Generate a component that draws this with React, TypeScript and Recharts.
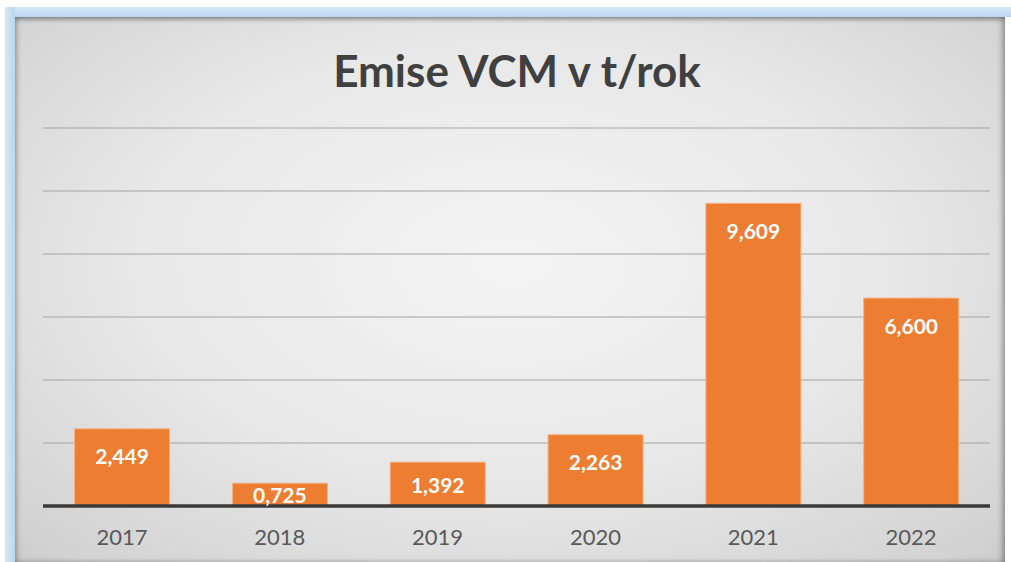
import React from "react";
import { BarChart, Bar, XAxis, YAxis, CartesianGrid, LabelList } from "recharts";

const years = ["2017", "2018", "2019", "2020", "2021", "2022"];
const emissions = [2.449, 0.725, 1.392, 2.263, 9.609, 6.6];
const valueLabels = ["2,449", "0,725", "1,392", "2,263", "9,609", "6,600"];
const yTicks = [0, 2, 4, 6, 8, 10, 12];
const title = "Emise VCM v t/rok";

const data = years.map((y, i) => ({ year: y, value: emissions[i], label: valueLabels[i] }));

const FONT = "Lato, 'Open Sans', sans-serif";

const renderLabel = (props: any) => {
  const { x, y, width, height, index } = props;
  const cx = x + width / 2;
  const cy = height > 50 ? y + 27 : y + height / 2;
  return (
    <text
      x={cx}
      y={cy}
      textAnchor="middle"
      dominantBaseline="central"
      fill="#ffffff"
      fontFamily={FONT}
      fontWeight={700}
      fontSize={21}
    >
      {valueLabels[index]}
    </text>
  );
};

export default function App() {
  return (
    <div style={{ position: "absolute", left: 0, top: 0, width: 1011, height: 562, background: "#ffffff", overflow: "hidden" }}>
      {/* spreadsheet frame strips */}
      <div style={{ position: "absolute", left: 5, top: 7, width: 1006, height: 10, background: "linear-gradient(#d6e8f8, #b9d5ef)" }} />
      <div style={{ position: "absolute", left: 5, top: 7, width: 10, height: 555, background: "linear-gradient(90deg, #d6e8f8, #b9d5ef)" }} />
      {/* chart area */}
      <div
        style={{
          position: "absolute",
          left: 15,
          top: 17,
          width: 990,
          height: 545,
          background: "radial-gradient(ellipse 75% 80% at 50% 45%, #f4f4f4 0%, #e8e8e8 50%, #d2d2d2 90%, #c6c6c6 100%)",
          boxShadow: "inset 0 3px 4px rgba(0,0,0,0.25), inset 3px 0 4px rgba(0,0,0,0.15), inset -4px 0 5px rgba(0,0,0,0.2)",
        }}
      />
      <div
        style={{
          position: "absolute",
          left: 0,
          top: 42,
          width: 1034,
          textAlign: "center",
          fontFamily: FONT,
          fontWeight: 700,
          fontSize: 44,
          color: "#404040",
          lineHeight: "56px",
        }}
      >
        {title}
      </div>
      <div style={{ position: "absolute", left: 0, top: 0 }}>
        <BarChart
          width={1011}
          height={562}
          data={data}
          margin={{ top: 128, right: 21, bottom: 0, left: 43 }}
          barCategoryGap="20%"
        >
          <CartesianGrid horizontal={true} vertical={false} stroke="#a3a3a3" strokeWidth={1.2} />
          <YAxis hide domain={[0, 12]} ticks={yTicks} />
          <XAxis
            dataKey="year"
            height={56}
            axisLine={{ stroke: "#3a3a3a", strokeWidth: 3.5 }}
            tickLine={false}
            tick={{ fill: "#595959", fontSize: 22, fontFamily: FONT }}
            tickMargin={17}
          />
          <Bar dataKey="value" fill="#ED7D31" stroke="#F4B183" strokeWidth={1} isAnimationActive={false}>
            <LabelList dataKey="label" content={renderLabel} />
          </Bar>
        </BarChart>
      </div>
    </div>
  );
}
